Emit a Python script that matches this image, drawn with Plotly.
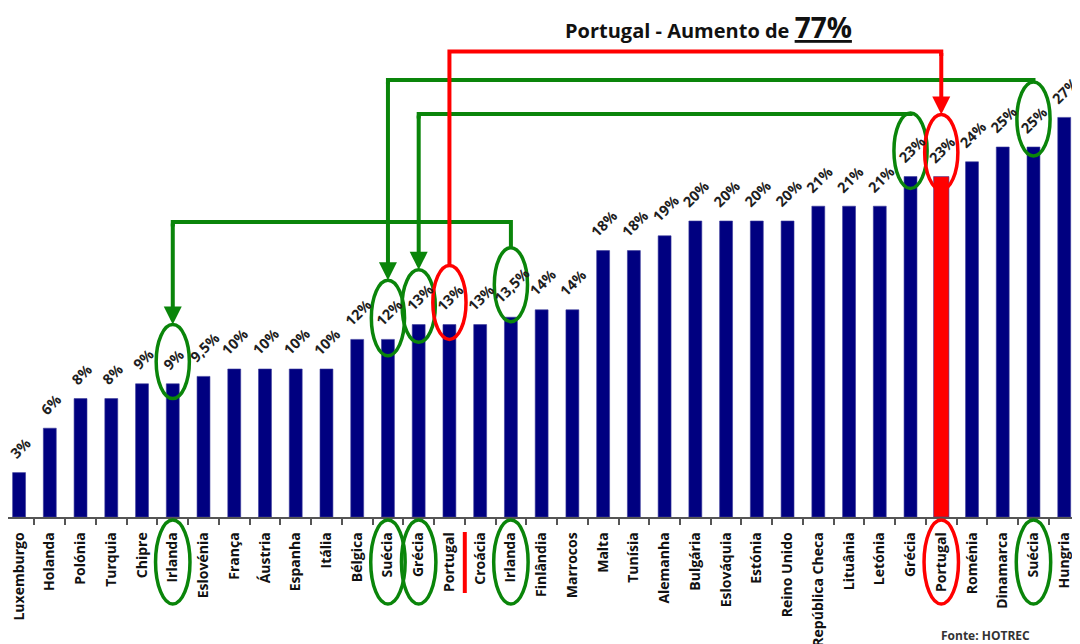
import plotly.graph_objects as go

# ---------------- data ----------------
countries = ["Luxemburgo", "Holanda", "Polónia", "Turquia", "Chipre", "Irlanda",
             "Eslovénia", "França", "Áustria", "Espanha", "Itália", "Bélgica",
             "Suécia", "Grécia", "Portugal", "Croácia", "Irlanda", "Finlândia",
             "Marrocos", "Malta", "Tunísia", "Alemanha", "Bulgária", "Eslováquia",
             "Estónia", "Reino Unido", "República Checa", "Lituânia", "Letónia",
             "Grécia", "Portugal", "Roménia", "Dinamarca", "Suécia", "Hungria"]
values = [3, 6, 8, 8, 9, 9, 9.5, 10, 10, 10, 10, 12, 12, 13, 13, 13, 13.5, 14, 14,
          18, 18, 19, 20, 20, 20, 20, 21, 21, 21, 23, 23, 24, 25, 25, 27]
highlight_index = 30  # Portugal (novo valor)

title_text = "Portugal - Aumento de"
title_pct = "77%"
source_text = "Fonte: HOTREC"

# ---------------- styles ----------------
NAVY = "#000080"
RED = "#ff0000"
GREEN = "#0a850a"
FONT = "Open Sans"
BASE_PX = 517        # page y of the baseline
PLOT_H = 509         # plot height (page offset of 8 px from body margin)
YMAX = PLOT_H / 14.8

x = list(range(len(values)))
labels = [f"{v:g}".replace(".", ",") + "%" for v in values]
colors = [RED if i == highlight_index else NAVY for i in x]
widths = [0.5 if i == highlight_index else 0.42 for i in x]

fig = go.Figure(go.Bar(
    x=x, y=values, width=widths,
    marker=dict(color=colors, line=dict(width=0.6, color="#3a3a9a")),
    hoverinfo="skip",
))


def px2paper(py):
    return (BASE_PX - py) / PLOT_H


shapes = []
annotations = []

# value labels above the bars
for i, v in enumerate(values):
    annotations.append(dict(x=i, y=v, xref="x", yref="y", text=f"<b>{labels[i]}</b>",
                            showarrow=False, textangle=-45, xanchor="center",
                            yanchor="bottom", yshift=7, xshift=1,
                            font=dict(family=FONT, size=14.5, color="#1e1e1e")))

# ellipses round the value labels: (index, bottom offset, top offset, colour)
label_rings = [(5, -1.0, 4.0, GREEN), (12, -1.1, 4.0, GREEN), (13, -1.2, 3.7, GREEN),
               (14, -1.0, 4.0, RED), (16, -0.3, 4.7, GREEN), (29, -0.8, 4.3, GREEN),
               (30, -0.9, 4.2, RED), (33, -0.6, 4.4, GREEN)]
ring_top = {}
for i, d0, d1, c in label_rings:
    shapes.append(dict(type="circle", xref="x", yref="y",
                       x0=i - 0.54, x1=i + 0.54, y0=values[i] + d0, y1=values[i] + d1,
                       line=dict(color=c, width=3.5)))
    ring_top[i] = values[i] + d1

# ellipses round the category names
for i, c in [(5, GREEN), (12, GREEN), (13, GREEN), (16, GREEN), (30, RED), (33, GREEN)]:
    shapes.append(dict(type="circle", xref="x", yref="paper",
                       x0=i - 0.56, x1=i + 0.56, y0=px2paper(604), y1=px2paper(520),
                       line=dict(color=c, width=3.5)))

# red separator between old Portugal and Croácia
shapes.append(dict(type="line", xref="x", yref="paper", x0=14.5, x1=14.5,
                   y0=px2paper(593), y1=px2paper(532), line=dict(color=RED, width=4)))

# connectors: (from index, to index, level of horizontal line, colour)
connectors = [(16, 5, 19.93, GREEN), (33, 12, 29.53, GREEN),
              (29, 13, 27.23, GREEN), (14, 30, 31.45, RED)]
for a, b, lvl, c in connectors:
    shapes.append(dict(type="path", xref="x", yref="y",
                       path=f"M {a},{ring_top[a]} L {a},{lvl} L {b},{lvl} L {b},{lvl - 0.3}",
                       line=dict(color=c, width=4)))
    annotations.append(dict(x=b, y=ring_top[b], ax=b, ay=lvl, xref="x", yref="y",
                            axref="x", ayref="y", text="", showarrow=True,
                            arrowhead=2, arrowsize=0.9, arrowwidth=4, arrowcolor=c))

# title
annotations.append(dict(
    xref="paper", yref="paper", x=0.653, y=px2paper(27), xanchor="center", yanchor="middle",
    showarrow=False,
    text=f"<b>{title_text} <span style='font-size:28px'><u>{title_pct}</u></span></b>",
    font=dict(family=FONT, size=20, color="#111111")))

# source
annotations.append(dict(
    xref="paper", yref="paper", x=0.955, y=px2paper(635), xanchor="right", yanchor="middle",
    showarrow=False, text=f"<b>{source_text}</b>",
    font=dict(family=FONT, size=12, color="#333333")))

fig.update_layout(
    width=1080, height=644,
    margin=dict(l=0, r=8, t=0, b=644 - PLOT_H, autoexpand=False),
    paper_bgcolor="white", plot_bgcolor="white",
    showlegend=False,
    shapes=shapes, annotations=annotations,
    xaxis=dict(range=[-0.36, -0.36 + 1072 / 30.74], tickmode="array", tickvals=x,
               ticktext=countries, tickangle=-90, ticks="", showgrid=False,
               showline=True, linecolor="#555555", linewidth=1.5,
               ticklabelstandoff=8, automargin=False,
               tickfont=dict(family=FONT, size=14, color="#111111", weight="bold"),
               minor=dict(tickvals=[i + 0.5 for i in range(len(values) - 1)],
                          ticks="outside", ticklen=6, tickcolor="#555555", tickwidth=1.5,
                          showgrid=False),
               zeroline=False, fixedrange=True),
    yaxis=dict(range=[0, YMAX], visible=False, fixedrange=True, automargin=False),
)

fig.write_html("out.html")
